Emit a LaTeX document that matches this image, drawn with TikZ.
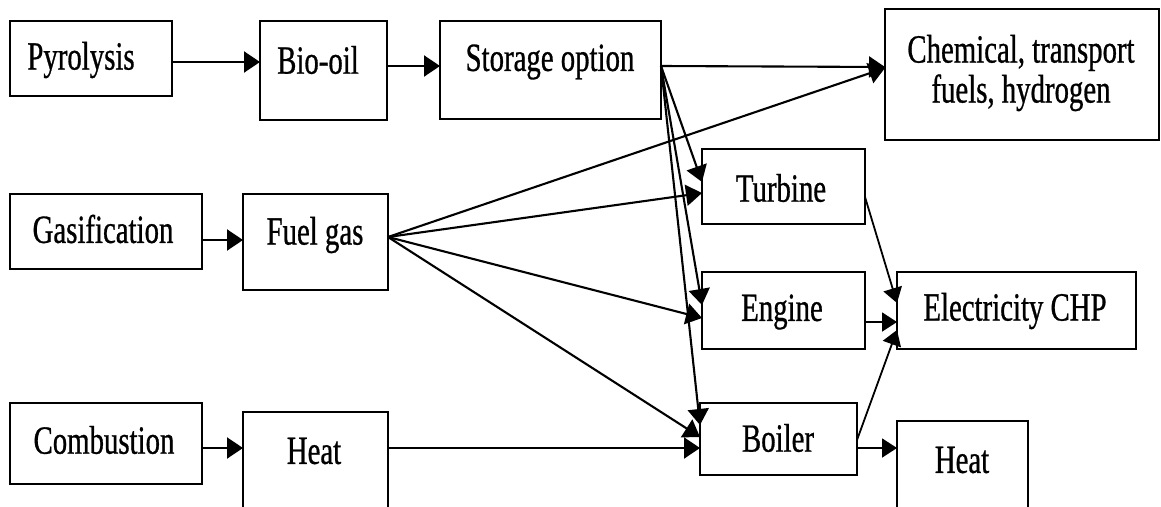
\documentclass[tikz,border=0pt]{standalone}
\usepackage{fontspec}
\setmainfont{Liberation Serif}[FakeStretch=0.72, FakeBold=0.7]
\usetikzlibrary{arrows.meta}
\begin{document}
\begin{tikzpicture}[x=1pt,y=-1pt,
  box/.style={draw, line width=2.2pt, inner sep=0pt, outer sep=0pt},
  lbl/.style={inner sep=0pt, font=\fontsize{40}{40}\selectfont, align=center},
  arr/.style={line width=2.1pt, -{Triangle[length=16pt,width=21pt]}},
  conn/.style={line width=1.8pt, -{Triangle[length=15pt,width=19pt]}}]
\useasboundingbox (0,0) rectangle (1161,506);
\fill[white] (0,0) rectangle (1161,506);
\clip (0,0) rectangle (1161,506);
% boxes
\node[box, minimum width=162, minimum height=75] (pyro) at (91,58.5) {};
\node[box, minimum width=127, minimum height=99] (bio) at (323.5,70.5) {};
\node[box, minimum width=221, minimum height=98] (storage) at (550.5,70) {};
\node[box, minimum width=274, minimum height=131] (chem) at (1022,74.5) {};
\node[box, minimum width=192, minimum height=75] (gas) at (106,231.5) {};
\node[box, minimum width=145, minimum height=96] (fuel) at (315.5,242) {};
\node[box, minimum width=192, minimum height=81] (comb) at (106,443.5) {};
\node[box, minimum width=145, minimum height=108] (heatA) at (315.5,466) {};
\node[box, minimum width=163, minimum height=75] (turbine) at (783.5,186.5) {};
\node[box, minimum width=163, minimum height=77] (engine) at (783.5,310.5) {};
\node[box, minimum width=239, minimum height=77] (elec) at (1016.5,310.5) {};
\node[box, minimum width=157, minimum height=72] (boiler) at (778.5,439) {};
\node[box, minimum width=131, minimum height=99] (heatB) at (962.5,470.5) {};
% labels
\node[lbl] (pyroT) at (81,60) {Pyrolysis};
\node[lbl] (bioT) at (318,60) {Bio-oil};
\node[lbl] (storageT) at (550,62) {Storage option};
\node[lbl] (chemT) at (1021,73) {Chemical, transport\\fuels, hydrogen};
\node[lbl] (gasT) at (103,229) {Gasification};
\node[lbl] (fuelT) at (315,235) {Fuel gas};
\node[lbl] (combT) at (104,440) {Combustion};
\node[lbl] (heatAT) at (314,451) {Heat};
\node[lbl] (turbineT) at (781,188) {Turbine};
\node[lbl] (engineT) at (782,312) {Engine};
\node[lbl] (elecT) at (1015,311) {Electricity CHP};
\node[lbl] (boilerT) at (778,438) {Boiler};
\node[lbl] (heatBT) at (962,460) {Heat};
% connectors
\draw[arr] (pyro.east |- 0,62) -- (bio.west |- 0,62);
\draw[arr] (bio.east |- 0,66) -- (storage.west |- 0,66);
\draw[arr] (storage.east |- 0,66) -- (chem.west |- 0,67);
\draw[arr] (gas.east |- 0,240) -- (fuel.west |- 0,240);
\draw[arr] (comb.east |- 0,448) -- (heatA.west |- 0,448);
\draw[arr] (heatA.east |- 0,448) -- (boiler.west |- 0,448);
\draw[arr] (storage.east |- 0,66) -- (turbine.west |- 0,182);
\draw[arr] (storage.east |- 0,66) -- (engine.west |- 0,305);
\draw[arr] (storage.east |- 0,66) -- (boiler.west |- 0,425);
\draw[arr] (fuel.east |- 0,237) -- (chem.west |- 0,68);
\draw[arr] (fuel.east |- 0,237) -- (turbine.west |- 0,193);
\draw[arr] (fuel.east |- 0,237) -- (engine.west |- 0,318);
\draw[arr] (fuel.east |- 0,237) -- (boiler.west |- 0,437);
\draw[conn] (turbine.east |- 0,197) -- (elec.west |- 0,303);
\draw[conn] (engine.east |- 0,322) -- (elec.west |- 0,322);
\draw[conn] (boiler.east |- 0,440) -- (elec.west |- 0,330);
\draw[conn] (boiler.east |- 0,448) -- (heatB.west |- 0,448);
\end{tikzpicture}
\end{document}
